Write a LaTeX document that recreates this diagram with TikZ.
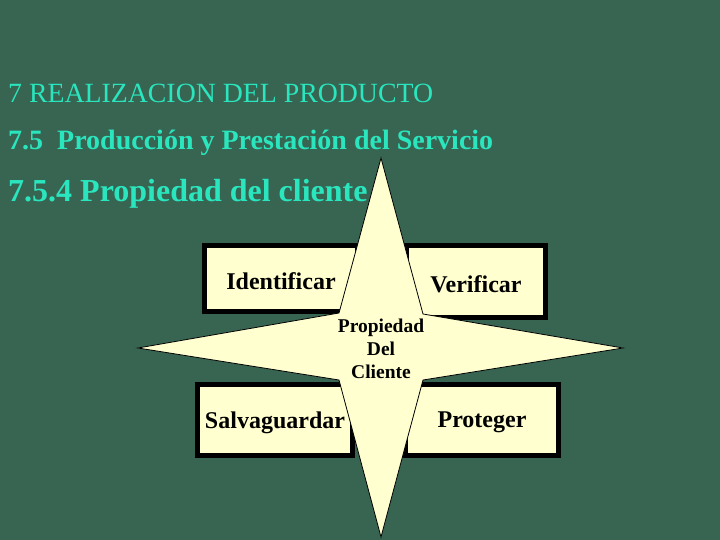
\documentclass[tikz,border=0pt]{standalone}
\usepackage{fontspec}
\setmainfont{Liberation Serif}
\definecolor{bg}{RGB}{55,101,82}
\definecolor{titlec}{RGB}{42,230,190}
\definecolor{cream}{RGB}{255,255,208}
\tikzset{
  boxnode/.style={draw=black, line width=5pt, fill=cream, inner sep=0pt},
  boxlabel/.style={font=\fontsize{24}{28}\selectfont\bfseries, text=black, inner sep=0pt},
  titlenode/.style={anchor=base west, inner sep=0pt, text=titlec},
  starshape/.style={draw=black, line width=0.8pt, fill=cream}
}
\begin{document}
\begin{tikzpicture}[x=1pt,y=-1pt]
\fill[bg] (0,0) rectangle (720,540);
\useasboundingbox (0,0) rectangle (720,540);
\node[titlenode, font=\fontsize{27.8}{30}\selectfont] (t1) at (8,103) {7 REALIZACION DEL PRODUCTO};
\node[titlenode, font=\fontsize{28}{30}\selectfont\bfseries] (t2) at (8,150) {7.5\ \ Producción y Prestación del Servicio};
\node[titlenode, font=\fontsize{32}{34}\selectfont\bfseries] (t3) at (8,202) {7.5.4 Propiedad del cliente};
\node[boxnode, minimum width=153pt, minimum height=66pt] (ident) at (281,278.5) {};
\node[boxnode, minimum width=139pt, minimum height=72pt] (verif) at (476,281.5) {};
\node[boxnode, minimum width=155pt, minimum height=71pt] (salva) at (275,420) {};
\node[boxnode, minimum width=153pt, minimum height=71pt] (prot) at (482,420) {};
\node[boxlabel] (identl) at ([yshift=-2.5pt]ident.center) {Identificar};
\node[boxlabel] (verifl) at ([yshift=-2.5pt]verif.center) {Verificar};
\node[boxlabel] (salval) at ([yshift=-3pt]salva.center) {Salvaguardar};
\node[boxlabel] (protl) at ([yshift=-2pt]prot.center) {Proteger};
\draw[starshape] (381,158) -- (423,314) -- (623,348) -- (423,380) -- (381,537)
  -- (339,380) -- (138,348) -- (339,313) -- cycle;
\node[align=center, font=\fontsize{19.5}{23}\selectfont\bfseries, text=black, inner sep=0pt] (center) at (381,349) {Propiedad\\Del\\Cliente};
\end{tikzpicture}
\end{document}
